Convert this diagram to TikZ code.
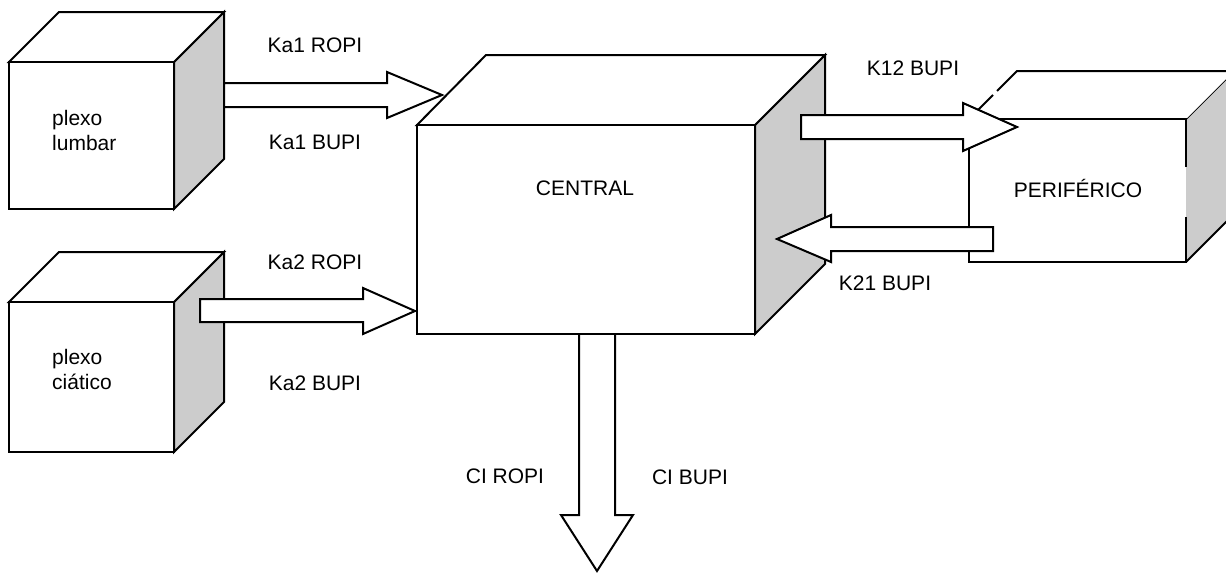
\documentclass[tikz,border=0pt]{standalone}
\usepackage{fontspec}
\setmainfont{Liberation Sans}
\begin{document}
\begin{tikzpicture}[x=1pt,y=-1pt,
  face/.style={draw=black,fill=white,line width=2pt,line join=miter},
  sideface/.style={draw=black,fill=black!20,line width=2pt,line join=miter},
  blockarrow/.style={draw=black,fill=white,line width=2pt,line join=miter},
  lbl/.style={inner sep=0pt,font=\fontsize{21}{25}\selectfont},
  boxlbl/.style={lbl,align=left,anchor=west}]
\useasboundingbox (0,0) rectangle (1226,573);
\clip (0,0) rectangle (1226,573);
% plexo lumbar cube
\draw[sideface] (174,62) -- (224,12) -- (224,159) -- (174,209) -- cycle;
\draw[face] (9,62) -- (59,12) -- (224,12) -- (174,62) -- cycle;
\draw[face] (9,62) rectangle (174,209);
\node[boxlbl] (lumbar) at (52,130) {plexo\\lumbar};
% plexo ciatico cube
\draw[sideface] (174,302) -- (224,252) -- (224,402) -- (174,452) -- cycle;
\draw[face] (9,302) -- (59,252) -- (224,252) -- (174,302) -- cycle;
\draw[face] (9,302) rectangle (174,452);
\node[boxlbl] (ciatico) at (52,369) {plexo\\ciático};
% central cube
\draw[sideface] (755,125) -- (825,55) -- (825,264) -- (755,334) -- cycle;
\draw[face] (417,125) -- (486,55) -- (825,55) -- (755,125) -- cycle;
\draw[face] (417,125) rectangle (755,334);
\node[lbl] (central) at (585,188) {CENTRAL};
% periferico cube
\fill[black!20] (1186,119) -- (1234,71) -- (1234,214) -- (1186,262) -- cycle;
\draw[line width=2pt] (1186,119) -- (1234,71) (1234,214) -- (1186,262);
\fill[white] (969,119) -- (1017,71) -- (1234,71) -- (1186,119) -- cycle;
\draw[line width=2pt] (969,119) -- (993,95) (997,91) -- (1017,71) -- (1234,71);
\fill[white] (969,119) rectangle (1186,262);
\draw[line width=2pt,line join=miter] (1186,167) -- (1186,119) -- (969,119) -- (969,262) -- (1186,262) -- (1186,217);
\node[lbl] (periferico) at (1078,188) {PERIFÉRICO};
% block arrows
\draw[blockarrow] (224,83) -- (387,83) -- (387,72) -- (442,95) -- (387,118) -- (387,107) -- (224,107) -- cycle;
\draw[blockarrow] (200,299) -- (363,299) -- (363,288) -- (415,311) -- (363,334) -- (363,322) -- (200,322) -- cycle;
\draw[blockarrow] (801,115) -- (963,115) -- (963,103) -- (1017,127) -- (963,151) -- (963,139) -- (801,139) -- cycle;
\draw[blockarrow] (993,227) -- (831,227) -- (831,215) -- (777,239) -- (831,262) -- (831,251) -- (993,251) -- cycle;
\draw[blockarrow] (579,335) -- (579,515) -- (561,515) -- (597,571) -- (633,515) -- (615,515) -- (615,335);
% labels
\node[lbl] (ka1r) at (315,45) {Ka1 ROPI};
\node[lbl] (ka1b) at (315,142) {Ka1 BUPI};
\node[lbl] (ka2r) at (315,262) {Ka2 ROPI};
\node[lbl] (ka2b) at (315,383) {Ka2 BUPI};
\node[lbl] (k12) at (913,68) {K12 BUPI};
\node[lbl] (k21) at (885,283) {K21 BUPI};
\node[lbl] (cir) at (505,476) {CI ROPI};
\node[lbl] (cib) at (690,477) {CI BUPI};
\end{tikzpicture}
\end{document}
